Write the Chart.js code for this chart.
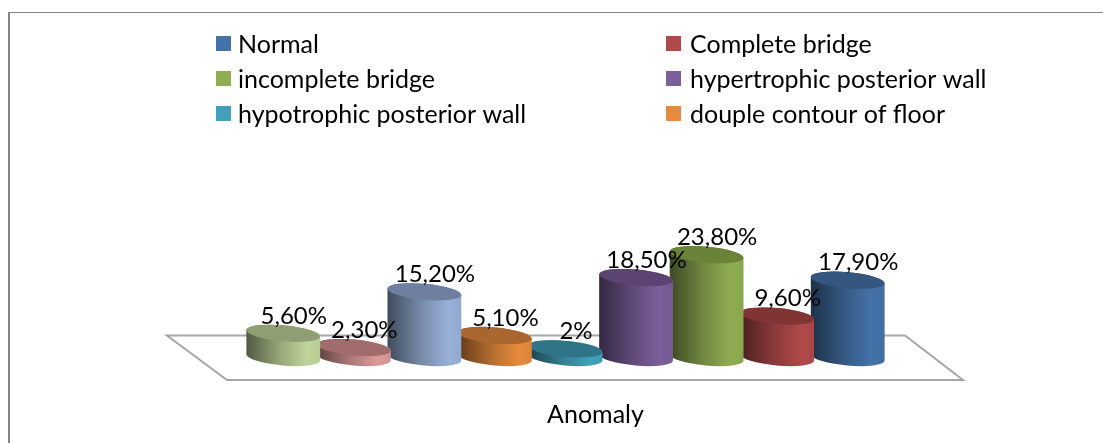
<!DOCTYPE html>
<html>
<head>
<meta charset="utf-8">
<style>
  html, body { margin: 0; padding: 0; background: #fff; }
  #wrap { position: relative; width: 1103px; height: 443px; overflow: hidden; }
</style>
<script src="https://cdn.jsdelivr.net/npm/chart.js@4/dist/chart.umd.min.js"></script>
</head>
<body>
<div id="wrap"><canvas id="anomalyChart" width="1103" height="443"></canvas></div>
<script>
// data, ordered as the series run in the sheet (first one ends up on the right)
var categories = ['Anomaly'];
var seriesNames = ['Normal', 'Complete bridge', 'incomplete bridge', 'hypertrophic posterior wall',
    'hypotrophic posterior wall', 'douple contour of floor'];
var seriesValues = [17.9, 9.6, 23.8, 18.5, 2, 5.1, 15.2, 2.3, 5.6];
var valueLabels = ['17,90%', '9,60%', '23,80%', '18,50%', '2%', '5,10%', '15,20%', '2,30%', '5,60%'];

var sideColors = ['#4472a8', '#b0494a', '#8fad52', '#7a5f9a', '#42a0ba', '#e68a3c', '#98b0d8', '#db9a98', '#c0d59a'];
var topColors = ['#35567f', '#803434', '#6b8239', '#5b4471', '#2f7587', '#a9672f', '#6f7f9f', '#a06c6c', '#8f9f73'];

var LABEL_FONT = '24px Lato, sans-serif';
var LEGEND_FONT = '25px Lato, sans-serif';
var TEXT = '#000';

function shade(hex, k) {
    var n = parseInt(hex.slice(1), 16);
    var r = Math.round((n >> 16 & 255) * k);
    var g = Math.round((n >> 8 & 255) * k);
    var b = Math.round((n & 255) * k);
    return 'rgb(' + r + ',' + g + ',' + b + ')';
}

// outer frame, floor, cylinders. Replaces the normal bar drawing.
var cylinders = {
    id: 'cylinders',
    beforeDatasetsDraw: function(chart) {
        var ctx = chart.ctx;
        var area = chart.chartArea;
        var base = chart.scales.y.getPixelForValue(0);

        // frame (only top and left are inside the picture)
        ctx.save();
        ctx.fillStyle = '#868686';
        ctx.fillRect(8, 12, 1095, 1);
        ctx.fillRect(8, 12, 2, 431);

        // floor
        ctx.strokeStyle = '#a6a6a6';
        ctx.lineWidth = 2;
        ctx.beginPath();
        ctx.moveTo(area.left - 81, base - 22);
        ctx.lineTo(area.right + 22, base - 22);
        ctx.lineTo(area.right + 80, base + 22.5);
        ctx.lineTo(area.left - 21, base + 22.5);
        ctx.closePath();
        ctx.stroke();

        // right-most first, the left neighbour overlaps it
        chart.data.datasets.forEach(function(ds, i) {
            var bar = chart.getDatasetMeta(i).data[0];
            var rx = bar.width / 2;
            var ry = 8;
            var tilt = 0.09;
            var left = bar.x - rx;
            var grad = ctx.createLinearGradient(left, 0, left + bar.width, 0);
            grad.addColorStop(0, shade(sideColors[i], 0.42));
            grad.addColorStop(0.45, shade(sideColors[i], 0.78));
            grad.addColorStop(0.82, sideColors[i]);
            grad.addColorStop(1, shade(sideColors[i], 0.96));

            ctx.beginPath();
            ctx.ellipse(bar.x, base, rx, ry, tilt, 0, Math.PI);
            ctx.ellipse(bar.x, bar.y, rx, ry, tilt, Math.PI, Math.PI * 2);
            ctx.closePath();
            ctx.fillStyle = grad;
            ctx.fill();

            ctx.beginPath();
            ctx.ellipse(bar.x, bar.y, rx, ry, tilt, 0, Math.PI * 2);
            ctx.fillStyle = topColors[i];
            ctx.fill();
        });
        ctx.restore();
        return false;
    },
    // afterDatasetsDraw does not fire once the hook above cancels the bars
    afterDraw: function(chart) {
        var ctx = chart.ctx;
        ctx.save();
        ctx.font = LABEL_FONT;
        ctx.fillStyle = TEXT;
        ctx.textAlign = 'center';
        ctx.textBaseline = 'middle';
        chart.data.datasets.forEach(function(ds, i) {
            var bar = chart.getDatasetMeta(i).data[0];
            ctx.fillText(valueLabels[i], bar.x + 10.5, bar.y - 17.5);
        });

        // legend, two columns, only the first six series are listed
        ctx.font = LEGEND_FONT;
        ctx.textAlign = 'left';
        seriesNames.forEach(function(name, i) {
            var col = i % 2;
            var row = Math.floor(i / 2);
            var x = 216 + col * 450;
            var y = 43.5 + row * 35;
            ctx.fillStyle = sideColors[i];
            ctx.fillRect(x, y - 7.5, 15, 15);
            ctx.fillStyle = TEXT;
            ctx.fillText(name, x + 22 + col * 2, y + 1);
        });
        ctx.restore();
    }
};

// order decides the slot in the group: Normal goes last, on the right
var datasets = seriesValues.map(function(v, i) {
    return { label: seriesNames[i] || '', data: [v], backgroundColor: sideColors[i], order: seriesValues.length - i };
});

new Chart(document.getElementById('anomalyChart'), {
    type: 'bar',
    data: { labels: categories, datasets: datasets },
    plugins: [cylinders],
    options: {
        responsive: false,
        animation: false,
        categoryPercentage: 1,
        barPercentage: 1.05,
        layout: { padding: { left: 248, right: 220, top: 98.3, bottom: 15.5 } },
        plugins: { legend: { display: false }, tooltip: { enabled: false } },
        scales: {
            x: {
                grid: { display: false },
                border: { display: false },
                ticks: { color: TEXT, font: { family: 'Lato, sans-serif', size: 25 }, padding: 34, labelOffset: 30 },
                afterFit: function(scale) { scale.height = 70; }
            },
            y: { display: false, min: 0, max: 60 }
        }
    }
});
</script>
</body>
</html>
